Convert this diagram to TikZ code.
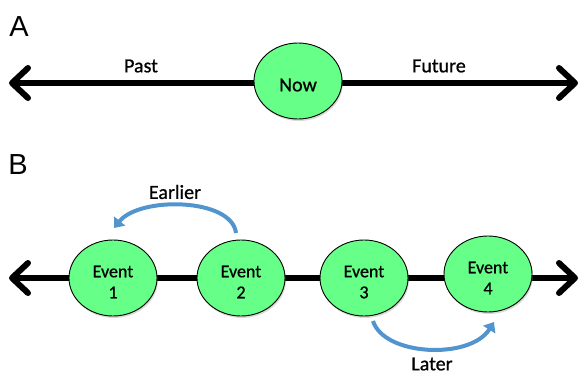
\documentclass[tikz,border=0pt]{standalone}
\usepackage{fontspec}
\setmainfont{Carlito}
\newfontfamily\semifont[FakeBold=0.8]{Carlito}
\newfontfamily\arialfont{Liberation Sans}
\usetikzlibrary{arrows.meta,shadows,shapes.geometric}
\definecolor{evgreen}{RGB}{102,255,136}
\definecolor{arrblue}{RGB}{82,148,206}
\begin{document}
\begin{tikzpicture}[x=1pt,y=-1pt,
  barb/.tip={Straight Barb[length=16pt,width=30pt,line width=6pt,round]},
  timeline/.style={line width=6.5pt,barb-barb},
  blob/.style={ellipse,draw=black,line width=0.9pt,fill=evgreen,inner sep=0pt,
    drop shadow={shadow xshift=1pt,shadow yshift=-2pt,opacity=0.3}},
  nowblob/.style={blob,minimum width=88pt,minimum height=76pt},
  evblob/.style={blob,minimum width=88pt,minimum height=76pt},
  lbl/.style={font=\semifont\fontsize{20}{22}\selectfont,inner sep=0pt},
  evtext/.style={font=\semifont\fontsize{18}{21}\selectfont,align=center,inner sep=0pt},
  panel/.style={font=\arialfont\fontsize{29}{29}\selectfont,inner sep=0pt},
  curvearrow/.style={draw=arrblue,line width=4pt,-{Triangle[length=9pt,width=14pt]}}
]
\useasboundingbox (0,0) rectangle (580,374);
% panel A
\node[panel] (A) at (19,27) {A};
\coordinate (aL) at (9,83);
\coordinate (aR) at (578,83);
\draw[timeline] (aL) -- (aR);
\node[nowblob] (now) at (298,81) {};
\node[lbl] (nowt) at (298,85) {Now};
\node[lbl] (past) at (141,66) {Past};
\node[lbl] (future) at (439,66) {Future};
% panel B
\node[panel] (B) at (18,165) {B};
\coordinate (bL) at (9,278);
\coordinate (bR) at (578,278);
\draw[timeline] (bL) -- (bR);
\node[evblob] (e1) at (113,278) {};
\node[evblob] (e2) at (241,278) {};
\node[evblob] (e3) at (364,278) {};
\node[evblob] (e4) at (488,274) {};
\node[evtext] (t1) at ([yshift=-4pt]e1.center) {Event\\1};
\node[evtext] (t2) at ([yshift=-4pt]e2.center) {Event\\2};
\node[evtext] (t3) at ([yshift=-4pt]e3.center) {Event\\3};
\node[evtext] (t4) at ([yshift=-4pt]e4.center) {Event\\4};
% curved arrows
\coordinate (eS) at (236,233);
\coordinate (eT) at (114,228);
\draw[curvearrow] (eS) .. controls (232,198) and (140,196) .. (eT);
\node[lbl] (earlier) at (175,192) {Earlier};
\coordinate (lS) at (373,321);
\coordinate (lT) at (494,322);
\draw[curvearrow] (lS) .. controls (384,356) and (470,360) .. (lT);
\node[lbl] (later) at (432,364) {Later};
\end{tikzpicture}
\end{document}
